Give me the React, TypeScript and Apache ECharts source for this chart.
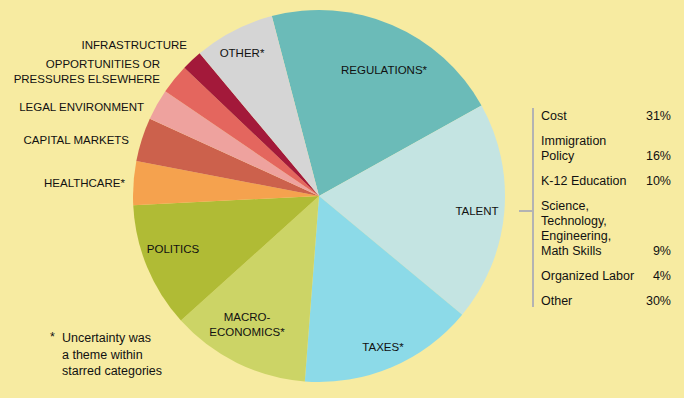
import React, { useEffect, useRef } from "react";
import * as echarts from "echarts";

const categories = [
  "REGULATIONS*",
  "TALENT",
  "TAXES*",
  "MACRO-\nECONOMICS*",
  "POLITICS",
  "HEALTHCARE*",
  "CAPITAL MARKETS",
  "LEGAL ENVIRONMENT",
  "OPPORTUNITIES OR\nPRESSURES ELSEWHERE",
  "INFRASTRUCTURE",
  "OTHER*",
];
const shares = [21.0, 19.1, 15.2, 12.1, 10.9, 3.8, 3.8, 2.7, 2.6, 1.8, 7.0];
const sliceColors = [
  "#6bbbb8",
  "#c4e4e2",
  "#8cdae8",
  "#ccd466",
  "#b0bb35",
  "#f5a24e",
  "#cc614c",
  "#eea29e",
  "#e4665e",
  "#a3193a",
  "#d5d5d5",
];
// label anchor positions (layout only)
const labelPos: [number, number, string][] = [
  [384, 70, "center"],
  [477, 211, "center"],
  [383, 347, "center"],
  [247, 324, "center"],
  [173, 249, "center"],
  [125, 183, "right"],
  [129, 140, "right"],
  [144, 107, "right"],
  [160, 71, "right"],
  [187, 45, "right"],
  [242, 53, "center"],
];

const talentLabels = [
  "Cost",
  "Immigration\nPolicy",
  "K-12 Education",
  "Science,\nTechnology,\nEngineering,\nMath Skills",
  "Organized Labor",
  "Other",
];
const talentValues = [31, 16, 10, 9, 4, 30];
const footnote = ["Uncertainty was", "a theme within", "starred categories"];

const BG = "#f7eba1";
const FONT = "'Liberation Sans', Arial, sans-serif";

export default function App() {
  const ref = useRef<HTMLDivElement>(null);
  useEffect(() => {
    document.body.style.margin = "0";
    document.body.style.background = BG;
    const chart = echarts.init(ref.current!, null, { renderer: "svg" });

    const graphics: any[] = [];
    // bracket
    graphics.push({
      type: "line",
      shape: { x1: 533, y1: 108, x2: 533, y2: 307 },
      style: { stroke: "#b3b3b3", lineWidth: 2 },
    });
    graphics.push({
      type: "line",
      shape: { x1: 519, y1: 211, x2: 533, y2: 211 },
      style: { stroke: "#b3b3b3", lineWidth: 2 },
    });
    const rowTops = [108, 133, 173, 198, 268, 293];
    const lh = 15;
    talentLabels.forEach((t, i) => {
      const lines = t.split("\n").length;
      graphics.push({
        type: "text",
        x: 541,
        y: rowTops[i],
        style: {
          text: t,
          font: `12.5px ${FONT}`,
          fill: "#111",
          lineHeight: lh,
          textAlign: "left",
          textVerticalAlign: "top",
        },
      });
      graphics.push({
        type: "text",
        x: 671,
        y: rowTops[i] + (lines - 1) * lh,
        style: {
          text: talentValues[i] + "%",
          font: `12.5px ${FONT}`,
          fill: "#111",
          lineHeight: lh,
          textAlign: "right",
          textVerticalAlign: "top",
        },
      });
    });
    graphics.push({
      type: "text",
      x: 50,
      y: 330,
      style: { text: "*", font: `12.5px ${FONT}`, fill: "#111", textVerticalAlign: "top" },
    });
    graphics.push({
      type: "text",
      x: 62,
      y: 330,
      style: {
        text: footnote.join("\n"),
        font: `12.5px ${FONT}`,
        fill: "#111",
        lineHeight: 16.5,
        textVerticalAlign: "top",
      },
    });

    chart.setOption({
      animation: false,
      backgroundColor: BG,
      graphic: graphics,
      series: [
        {
          type: "pie",
          center: [319, 196],
          radius: [0, 186],
          startAngle: 104.7,
          clockwise: true,
          silent: true,
          avoidLabelOverlap: false,
          itemStyle: { borderWidth: 0 },
          emphasis: { disabled: true },
          labelLine: { show: false },
          label: {
            show: true,
            position: "inside",
            formatter: "{b}",
            color: "#111",
            fontFamily: FONT,
            fontSize: 11.5,
            lineHeight: 15,
          },
          labelLayout: (p: any) => {
            const pos = labelPos[p.dataIndex];
            return {
              x: pos[0],
              y: pos[1],
              align: pos[2],
              verticalAlign: "middle",
            };
          },
          data: categories.map((c, i) => ({
            name: c,
            value: shares[i],
            itemStyle: { color: sliceColors[i] },
            label: { align: labelPos[i][2] },
          })),
        },
      ],
    });
    return () => chart.dispose();
  }, []);
  return <div ref={ref} style={{ width: 684, height: 398 }} />;
}
